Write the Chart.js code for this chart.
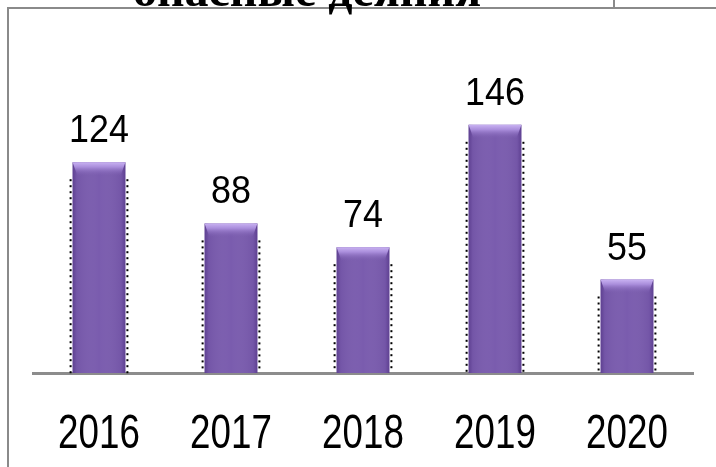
<!DOCTYPE html>
<html><head><meta charset="utf-8">
<script src="https://cdn.jsdelivr.net/npm/chart.js@4/dist/chart.umd.min.js"></script>
<style>html,body{margin:0;padding:0;background:#fff;overflow:hidden}
#wrap{position:relative;width:716px;height:467px}
canvas{position:absolute;left:0;top:0}
</style></head><body><div id="wrap"><canvas id="c" width="716" height="467"></canvas></div>
<script>
const titleText = 'опасные деяния';
const categories = ['2016', '2017', '2018', '2019', '2020'];
const values = [124, 88, 74, 146, 55];

const framePlugin = {
  id: 'frame',
  beforeDraw(chart) {
    const ctx = chart.ctx;
    ctx.save();
    ctx.fillStyle = '#ffffff';
    ctx.fillRect(0, 0, chart.width, chart.height);
    ctx.fillStyle = '#8a8a8a';
    ctx.fillRect(7, 7, chart.width - 7, 2);
    ctx.fillRect(7, 7, 2, chart.height - 7);
    ctx.fillRect(613, 0, 2, 8);
    ctx.restore();
  },
  afterDraw(chart) {
    const ctx = chart.ctx;
    ctx.save();
    ctx.fillStyle = '#000';
    ctx.font = 'bold 48px "Liberation Serif", "Times New Roman", serif';
    ctx.textAlign = 'center';
    ctx.textBaseline = 'alphabetic';
    ctx.fillText(titleText, 307, 6);
    // category labels, condensed
    const xs = chart.scales.x;
    ctx.font = '49px "Liberation Sans", Arial, sans-serif';
    ctx.textBaseline = 'alphabetic';
    categories.forEach((c, i) => {
      const px = xs.getPixelForTick(i);
      ctx.save();
      ctx.translate(px, 448);
      ctx.scale(0.75, 1);
      ctx.fillText(c, 0, 0);
      ctx.restore();
    });
    ctx.restore();
  }
};

const barDeco = {
  id: 'barDeco',
  afterDatasetsDraw(chart) {
    const ctx = chart.ctx;
    const meta = chart.getDatasetMeta(0);
    ctx.save();
    meta.data.forEach((bar, i) => {
      const w = bar.width, l = bar.x - w / 2, r = bar.x + w / 2, t = bar.y, b = bar.base;
      const g = ctx.createLinearGradient(l, 0, r, 0);
      g.addColorStop(0, 'rgba(60,30,110,0.45)');
      g.addColorStop(0.08, 'rgba(60,30,110,0.10)');
      g.addColorStop(0.5, 'rgba(255,255,255,0.0)');
      g.addColorStop(0.92, 'rgba(60,30,110,0.10)');
      g.addColorStop(1, 'rgba(60,30,110,0.45)');
      ctx.fillStyle = g;
      ctx.fillRect(l, t, w, b - t);
      const gv = ctx.createLinearGradient(0, t, 0, t + 14);
      gv.addColorStop(0, '#c9b2f2');
      gv.addColorStop(0.35, '#a98ddb');
      gv.addColorStop(1, 'rgba(122,92,174,0)');
      ctx.fillStyle = gv;
      ctx.beginPath();
      ctx.moveTo(l, t);
      ctx.lineTo(r, t);
      ctx.lineTo(r - 5, t + 14);
      ctx.lineTo(l + 5, t + 14);
      ctx.closePath();
      ctx.fill();
      ctx.fillStyle = '#000';
      for (let y = t + 17; y < b - 1; y += 6) {
        ctx.fillRect(l - 3, y, 2, 2);
        ctx.fillRect(r + 1, y, 2, 2);
      }
      ctx.font = '39px "Liberation Sans", Arial, sans-serif';
      ctx.textAlign = 'center';
      ctx.textBaseline = 'alphabetic';
      ctx.save();
      ctx.translate(bar.x, t - 20);
      ctx.scale(0.92, 1);
      ctx.fillText(String(values[i]), 0, 0);
      ctx.restore();
    });
    ctx.restore();
  }
};

new Chart(document.getElementById('c'), {
  type: 'bar',
  data: {
    labels: categories,
    datasets: [{
      data: values,
      backgroundColor: '#7a5cae',
      borderWidth: 0,
      categoryPercentage: 1.0,
      barPercentage: 0.4
    }]
  },
  options: {
    responsive: false,
    animation: false,
    devicePixelRatio: 1,
    layout: { padding: { left: 33, right: 23, top: 101, bottom: 94 } },
    plugins: { legend: { display: false }, title: { display: false }, tooltip: { enabled: false } },
    scales: {
      y: { display: false, min: 0, max: 160 },
      x: {
        grid: { display: false, drawTicks: false },
        border: { display: true, color: '#8c8c8c', width: 3 },
        ticks: { display: false }
      }
    }
  },
  plugins: [framePlugin, barDeco]
});
</script></body></html>
